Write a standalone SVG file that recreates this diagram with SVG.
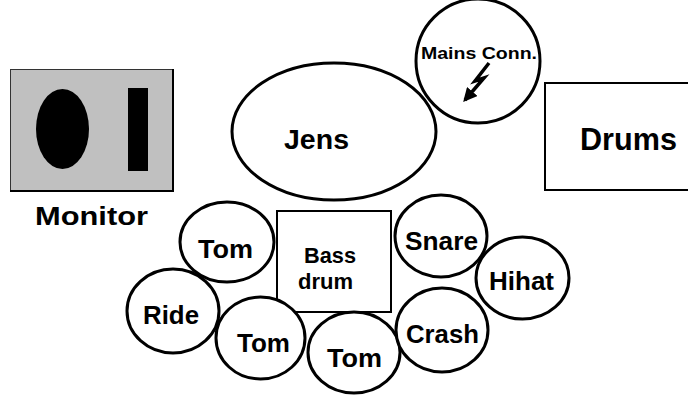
<svg xmlns="http://www.w3.org/2000/svg" width="688" height="396" viewBox="0 0 688 396">
<style>
.d{fill:#fff;stroke:#000;stroke-width:3}
.b{fill:#fff;stroke:#000;stroke-width:2}
text{font-family:"Liberation Sans",Arial,sans-serif;font-weight:bold;fill:#000}
.t{font-size:26px}
.s{font-size:22px}
</style>
<defs>
<marker id="ah" viewBox="0 0 10 10" refX="8" refY="5" markerWidth="4" markerHeight="4" orient="auto">
<path d="M0,0 L10,5 L0,10 z" fill="#000"/>
</marker>
</defs>
<rect width="688" height="396" fill="#fff"/>
<g id="monitor">
<rect x="10.5" y="69.5" width="162" height="121" fill="#c0c0c0" stroke="#333" stroke-width="1"/>
<path d="M10,191 H173 V69" fill="none" stroke="#000" stroke-width="2"/>
<ellipse cx="62.5" cy="129" rx="26.5" ry="40" fill="#000"/>
<rect x="128" y="88" width="20" height="83" fill="#000"/>
<text x="35" y="225" textLength="113" lengthAdjust="spacingAndGlyphs" class="t">Monitor</text>
</g>
<g id="mains">
<circle cx="478" cy="61" r="62" class="d"/>
<text x="421" y="59" font-size="16" textLength="116" lengthAdjust="spacingAndGlyphs">Mains Conn.</text>
</g>
<g id="drums">
<rect x="545" y="83" width="145" height="107" class="b"/>
<text x="580" y="150" font-size="31" textLength="97" lengthAdjust="spacingAndGlyphs">Drums</text>
</g>
<g id="jens">
<ellipse cx="334" cy="131.5" rx="102" ry="68.5" class="d"/>
<text x="284" y="149" font-size="27" textLength="65" lengthAdjust="spacingAndGlyphs">Jens</text>
</g>
<g id="bassdrum">
<rect x="277" y="211" width="114" height="101" class="b"/>
<text x="304" y="263" class="s" textLength="52" lengthAdjust="spacingAndGlyphs">Bass</text>
<text x="298" y="289" class="s" textLength="55" lengthAdjust="spacingAndGlyphs">drum</text>
</g>
<g id="tom1">
<ellipse cx="227" cy="242" rx="47" ry="40" class="d"/>
<text x="198" y="258" class="t" textLength="55" lengthAdjust="spacingAndGlyphs">Tom</text>
</g>
<g id="ride">
<ellipse cx="173" cy="311" rx="46" ry="42" class="d"/>
<text x="143" y="324" class="t" textLength="56" lengthAdjust="spacingAndGlyphs">Ride</text>
</g>
<g id="tom2">
<ellipse cx="260.5" cy="338" rx="44.5" ry="41" class="d"/>
<text x="237" y="352" class="t" textLength="53" lengthAdjust="spacingAndGlyphs">Tom</text>
</g>
<g id="tom3">
<ellipse cx="354" cy="352.5" rx="46" ry="40.5" class="d"/>
<text x="327" y="367" class="t" textLength="55" lengthAdjust="spacingAndGlyphs">Tom</text>
</g>
<g id="snare">
<ellipse cx="441" cy="236" rx="46" ry="41" class="d"/>
<text x="405" y="250" class="t" textLength="73" lengthAdjust="spacingAndGlyphs">Snare</text>
</g>
<g id="hihat">
<ellipse cx="522.5" cy="278" rx="46.5" ry="41" class="d"/>
<text x="489" y="290" class="t" textLength="65" lengthAdjust="spacingAndGlyphs">Hihat</text>
</g>
<g id="crash">
<ellipse cx="442" cy="330" rx="46" ry="42" class="d"/>
<text x="406" y="343" class="t" textLength="73" lengthAdjust="spacingAndGlyphs">Crash</text>
</g>
<g id="connectors">
<path d="M489,63 L475,81 L484,78 L465,100" fill="none" stroke="#000" stroke-width="3.5" stroke-linejoin="miter" marker-end="url(#ah)"/>
</g>
</svg>
